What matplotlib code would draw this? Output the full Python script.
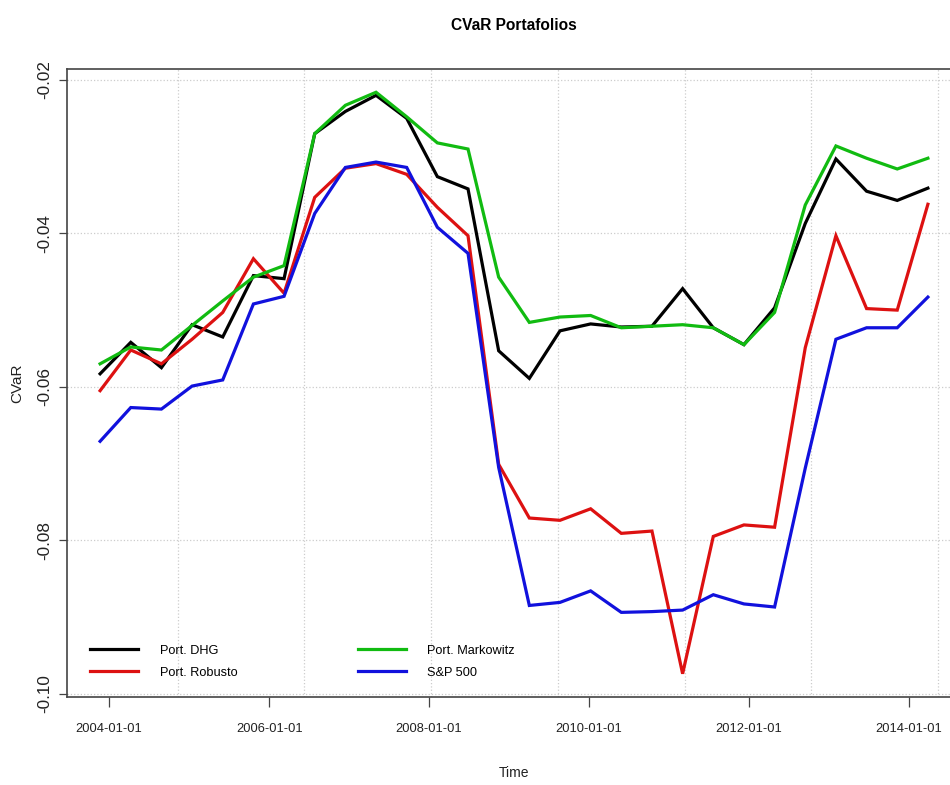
#CVaR of the portfolios vs the S&P 500, R style line chart
import numpy as np
import pandas as pd
import matplotlib
matplotlib.use('Agg')
import matplotlib.pyplot as plt
import matplotlib.dates as mdates

plt.rcParams['axes.unicode_minus'] = False
regular = ['Liberation Sans', 'DejaVu Sans']
plt.rcParams['font.family'] = regular

#dates of the rolling windows (every 140 days)
dates = pd.date_range('2003-11-21', periods=28, freq='140D')

dhg = [-0.0583, -0.0542, -0.0575, -0.0519, -0.0535, -0.0455, -0.0459, -0.0270,
       -0.0241, -0.0220, -0.0250, -0.0326, -0.0342, -0.0553, -0.0589, -0.0527,
       -0.0518, -0.0522, -0.0521, -0.0472, -0.0523, -0.0545, -0.0497, -0.0387,
       -0.0303, -0.0345, -0.0357, -0.0341]
robusto = [-0.0605, -0.0552, -0.0570, -0.0538, -0.0503, -0.0433, -0.0478, -0.0353,
           -0.0315, -0.0309, -0.0323, -0.0366, -0.0403, -0.0701, -0.0771, -0.0774,
           -0.0759, -0.0791, -0.0788, -0.0974, -0.0795, -0.0780, -0.0783, -0.0549,
           -0.0403, -0.0498, -0.0500, -0.0362]
markowitz = [-0.0570, -0.0548, -0.0552, -0.0520, -0.0488, -0.0457, -0.0442, -0.0270,
             -0.0233, -0.0216, -0.0248, -0.0282, -0.0290, -0.0457, -0.0516, -0.0509,
             -0.0507, -0.0523, -0.0521, -0.0519, -0.0523, -0.0545, -0.0503, -0.0363,
             -0.0286, -0.0302, -0.0316, -0.0302]
sp500 = [-0.0671, -0.0627, -0.0629, -0.0599, -0.0591, -0.0492, -0.0482, -0.0374,
         -0.0314, -0.0307, -0.0314, -0.0392, -0.0426, -0.0705, -0.0885, -0.0881,
         -0.0866, -0.0894, -0.0893, -0.0891, -0.0871, -0.0883, -0.0887, -0.0706,
         -0.0538, -0.0523, -0.0523, -0.0483]

series = [('Port. DHG', dhg, 'black'),
          ('Port. Robusto', robusto, '#dd1111'),
          ('Port. Markowitz', markowitz, '#11bb11'),
          ('S&P 500', sp500, '#1111dd')]

tick_dates = pd.to_datetime(['2004-01-01', '2006-01-01', '2008-01-01',
                             '2010-01-01', '2012-01-01', '2014-01-01'])
y_ticks = [-0.10, -0.08, -0.06, -0.04, -0.02]
#R grid() puts the vertical lines on the POSIXct seconds axis
grid_dates = pd.to_datetime(np.arange(1.10e9, 1.41e9, 0.05e9), unit='s')

fig = plt.figure(figsize=(9.5, 7.85), dpi=100)
#axes box runs a little past the right edge, like the cropped original
ax = fig.add_axes([67/950, 88/785, 894/950, 628/785])

for name, vals, col in series:
    ax.plot(dates, vals, color=col, lw=2.3, label=name, solid_joinstyle='miter')

#R style 4% padding
allv = np.concatenate([dhg, robusto, markowitz, sp500])
pad = 0.04*(allv.max() - allv.min())
ax.set_ylim(allv.min() - pad, allv.max() + pad)
span = dates[-1] - dates[0]
ax.set_xlim(dates[0] - 0.04*span, dates[-1] + 0.04*span)

ax.set_xticks(tick_dates)
ax.xaxis.set_major_formatter(mdates.DateFormatter('%Y-%m-%d'))
ax.set_xticks(grid_dates, minor=True)
ax.set_yticks(y_ticks)
ax.set_yticklabels(['%.2f' % v for v in y_ticks], rotation=90, va='center',
                   fontsize=12.3, color='#222222')
ax.tick_params(axis='x', which='major', direction='out', length=7, width=0.9,
               color='#444444', pad=11.5, labelsize=9.3, labelcolor='#222222')
ax.tick_params(axis='x', which='minor', length=0)
ax.tick_params(axis='y', direction='out', length=5.5, width=0.9, color='#444444', pad=5)

ax.grid(which='minor', axis='x', color='#cccccc', ls=':', lw=0.9)
ax.grid(which='major', axis='y', color='#cccccc', ls=':', lw=0.9)

for s in ax.spines.values():
    s.set_color('#444444')
    s.set_linewidth(1.2)

ax.set_xlabel('Time', fontsize=10, color='#222222')
ax.xaxis.set_label_coords(0.5, -0.11)
ax.set_ylabel('CVaR', fontsize=11, color='#222222')
ax.yaxis.label.set_va('center')
ax.yaxis.set_label_coords(-0.0554, 0.5)

fig.text(514/950, 1 - 25/785, 'CVaR Portafolios', ha='center', va='center',
         fontsize=11.2, fontweight='bold')

ax.legend(ncol=2, frameon=False, loc='lower left', bbox_to_anchor=(0.026, 0.029),
          fontsize=9.2, handlelength=3.75, handletextpad=1.7, columnspacing=9.4,
          labelspacing=0.8, borderpad=0, borderaxespad=0)

fig.savefig('out.png', dpi=100)
